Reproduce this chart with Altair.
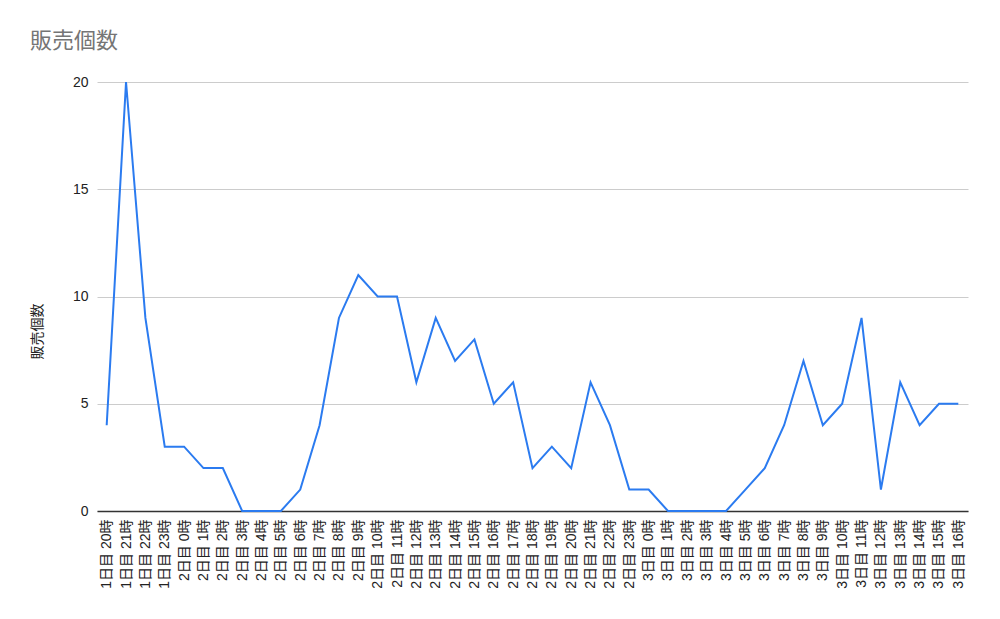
import altair as alt
import pandas as pd

labels = (
    [f"1日目 {h}時" for h in [20, 21, 22, 23]]
    + [f"2日目 {h}時" for h in range(24)]
    + [f"3日目 {h}時" for h in range(17)]
)
values = [4, 20, 9, 3,
          3, 2, 2, 0, 0, 0, 1, 4, 9, 11, 10, 10, 6, 9, 7, 8, 5, 6, 2, 3, 2, 6, 4, 1,
          1, 0, 0, 0, 0, 1, 2, 4, 7, 4, 5, 9, 1, 6, 4, 5, 5]

df = pd.DataFrame({"time": labels, "count": values})

FONT = "Liberation Sans, Noto Sans CJK JP"

chart = alt.Chart(df).mark_line(color="#2b7bf0", strokeWidth=2).encode(
    x=alt.X("time:N", sort=labels, title=None,
            scale=alt.Scale(type="point", padding=0.5),
            axis=alt.Axis(labelAngle=-90, labelFontSize=14, labelColor="#222222",
                          labelPadding=8, ticks=False, domainColor="#333333",
                          domainWidth=1.5, grid=False, labelFont=FONT,
                          labelOverlap=False)),
    y=alt.Y("count:Q", title="販売個数",
            scale=alt.Scale(domain=[0, 20]),
            axis=alt.Axis(values=[0, 5, 10, 15, 20], labelFontSize=14,
                          labelColor="#222222", labelPadding=9, ticks=False,
                          domain=False, gridColor="#cccccc", labelFont=FONT,
                          titleFont=FONT, titleFontSize=14, titleFontWeight="normal",
                          titleColor="#222222", titleX=-60, titleY=249,
                          titleAngle=-90, titleAlign="center",
                          titleBaseline="middle")),
).properties(
    width=871,
    height=429,
    title=alt.TitleParams("販売個数", anchor="start", font=FONT, fontSize=22,
                          fontWeight="normal", color="#757575", dx=0, offset=22),
    autosize=alt.AutoSizeParams(type="none"),
    padding={"left": 89, "top": 74, "right": 20, "bottom": 100},
).configure_view(stroke=None)

chart.save("out.html", embed_options={"renderer": "svg", "actions": False})
